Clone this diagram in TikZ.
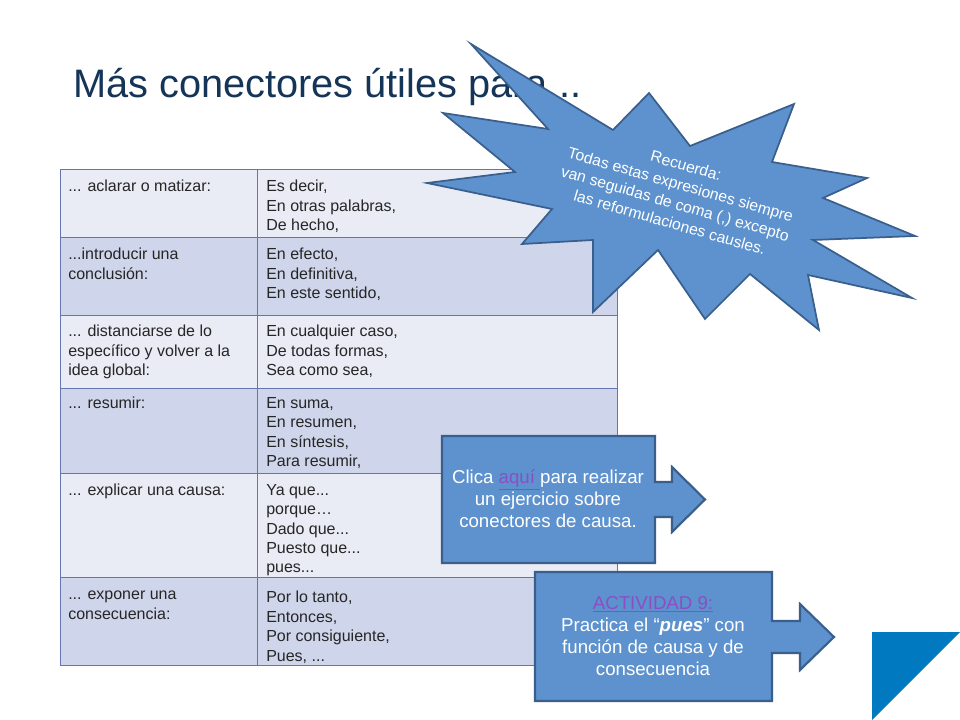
\documentclass[tikz,border=0pt]{standalone}
\usepackage{fontspec}
\setmainfont{Liberation Sans}
\definecolor{titlecol}{RGB}{20,52,88}
\definecolor{rowlight}{RGB}{233,235,245}
\definecolor{rowdark}{RGB}{207,213,234}
\definecolor{gridcol}{RGB}{100,118,175}
\definecolor{shapefill}{RGB}{93,146,206}
\definecolor{shapeline}{RGB}{58,95,140}
\definecolor{linkcol}{RGB}{138,79,196}
\definecolor{tricol}{RGB}{0,121,193}
\begin{document}
\begin{tikzpicture}[x=0.75pt,y=-0.75pt,
  cell/.style={anchor=north west,inner sep=0pt,align=left,text=black!85,font=\fontsize{12}{14.55}\selectfont},
  lightrow/.style={fill=rowlight},
  darkrow/.style={fill=rowdark},
  grid/.style={draw=gridcol,line width=0.75pt},
  callout/.style={fill=shapefill,draw=shapeline,line width=1.6pt,line join=miter},
  calltext/.style={text=white,align=center,inner sep=0pt,font=\fontsize{14}{16.5}\selectfont},
  startext/.style={text=white,align=center,inner sep=0pt,font=\fontsize{11.8}{14.8}\selectfont}]
\useasboundingbox (0,0) rectangle (960,720);
\fill[white] (0,0) rectangle (960,720);

% table rows
\path[lightrow] (60,170) rectangle (617,238);
\path[darkrow]  (60,238) rectangle (617,315);
\path[lightrow] (60,315) rectangle (617,388);
\path[darkrow]  (60,388) rectangle (617,473);
\path[lightrow] (60,473) rectangle (617,577);
\path[darkrow]  (60,577) rectangle (617,665);
\draw[grid] (60,170) rectangle (617,665);
\foreach \yy in {238,315,388,473,577} \draw[grid] (60,\yy) -- (617,\yy);
\draw[grid] (257,170) -- (257,665);

% table texts
\node[cell] (l1) at (68,180) {... aclarar o matizar:};
\node[cell] (r1) at (266,180) {Es decir,\\En otras palabras,\\De hecho,};
\node[cell] (l2) at (68,248) {...introducir una\\conclusión:};
\node[cell] (r2) at (266,248) {En efecto,\\En definitiva,\\En este sentido,};
\node[cell] (l3) at (68,325) {... distanciarse de lo\\específico y volver a la\\idea global:};
\node[cell] (r3) at (266,325) {En cualquier caso,\\De todas formas,\\Sea como sea,};
\node[cell] (l4) at (68,397) {... resumir:};
\node[cell] (r4) at (266,397) {En suma,\\En resumen,\\En síntesis,\\Para resumir,};
\node[cell] (l5) at (68,484) {... explicar una causa:};
\node[cell] (r5) at (266,484) {Ya que...\\porque…\\Dado que...\\Puesto que...\\pues...};
\node[cell] (l6) at (68,591) {... exponer una\\consecuencia:};
\node[cell] (r6) at (266,591) {Por lo tanto,\\Entonces,\\Por consiguiente,\\Pues, ...};

% title
\node[anchor=base west,inner sep=0pt,text=titlecol,font=\fontsize{29.8}{34}\selectfont] (title) at (73,98) {Más conectores útiles para ..};

% star
\draw[callout,line width=1.3pt] (471,44) -- (613,130) -- (649,93) -- (690,146) -- (794,104) -- (772,162)
  -- (867,178) -- (823,198) -- (915,236) -- (813,240) -- (912,298) -- (808,275)
  -- (819,330) -- (750,274) -- (705,319) -- (658,250) -- (593,312) -- (593,240)
  -- (522,244) -- (552,209) -- (427,183) -- (515,172) -- (443,113) -- (548,129) -- cycle;
\node[startext,rotate=-16] (star) at (678,194) {Recuerda:\\Todas estas expresiones siempre\\van seguidas de coma (,) excepto\\las reformulaciones causles.};

% callout 1
\draw[callout] (442,436) -- (655,436) -- (655,482) -- (672,482) -- (672,467) -- (705,499.5)
  -- (672,532) -- (672,517) -- (655,517) -- (655,563) -- (442,563) -- cycle;
\node[calltext] (c1) at (548,499) {Clica \textcolor{linkcol}{\underline{aquí~}}para realizar\\un ejercicio sobre\\conectores de causa.};

% callout 2
\draw[callout] (535,572) -- (772,572) -- (772,621) -- (800,621) -- (800,604) -- (834,637)
  -- (800,670) -- (800,653) -- (772,653) -- (772,701) -- (535,701) -- cycle;
\node[calltext] (c2) at (653,636) {\textcolor{linkcol}{\underline{ACTIVIDAD 9:}}\\Practica el “\textbf{\textit{pues}}” con\\función de causa y de\\consecuencia};

% corner triangle
\fill[tricol] (872,632) -- (960,632) -- (872,720) -- cycle;
\end{tikzpicture}
\end{document}
